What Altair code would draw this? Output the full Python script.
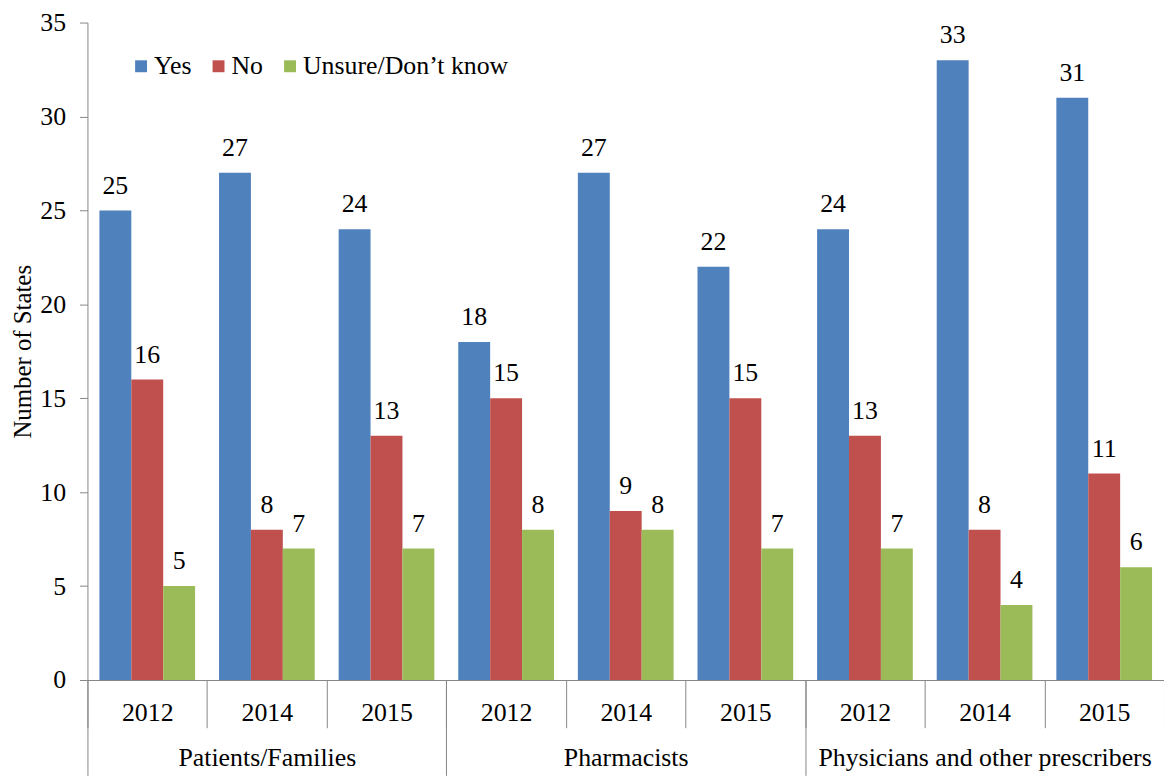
import altair as alt
import pandas as pd

categories = ["Patients/Families", "Pharmacists", "Physicians and other prescribers"]
years = ["2012", "2014", "2015"]
series = ["Yes", "No", "Unsure/Don\u2019t know"]
yes_vals = [25, 27, 24, 18, 27, 22, 24, 33, 31]
no_vals = [16, 8, 13, 15, 9, 15, 13, 8, 11]
unsure_vals = [5, 7, 7, 8, 8, 7, 7, 4, 6]
colors = ["#4F81BD", "#C0504D", "#9BBB59"]
y_ticks = [0, 5, 10, 15, 20, 25, 30, 35]

rows = []
slots = []
for ci, c in enumerate(categories):
    for yi, yr in enumerate(years):
        i = ci * 3 + yi
        slot = f"{c}|{yr}"
        slots.append(slot)
        for s, vals in zip(series, [yes_vals, no_vals, unsure_vals]):
            rows.append({"slot": slot, "category": c, "year": yr,
                         "series": s, "value": vals[i]})
df = pd.DataFrame(rows)
cat_df = pd.DataFrame({"category": categories})

FONT = "Liberation Serif"
GRAY = "#868686"
FS = 26

x_enc = alt.X(
    "slot:N", sort=slots,
    scale=alt.Scale(paddingInner=0, paddingOuter=0),
    axis=alt.Axis(title=None, orient="bottom",
                  labelExpr="split(datum.value, '|')[1]",
                  tickBand="extent", tickSize=48, tickColor=GRAY,
                  domainColor=GRAY, labelPadding=-28, labelFontSize=FS,
                  labelFont=FONT, labelColor="black", labelAngle=0,
                  labelLimit=0),
)
xoff = alt.XOffset("series:N", sort=series,
                   scale=alt.Scale(paddingInner=0, paddingOuter=0.375))
y_enc = alt.Y(
    "value:Q",
    scale=alt.Scale(domain=[0, 35], nice=False),
    axis=alt.Axis(title="Number of States", values=y_ticks, grid=False,
                  tickSize=8, tickColor=GRAY, domainColor=GRAY,
                  labelFontSize=FS, labelFont=FONT, labelColor="black",
                  labelPadding=14, titleFont=FONT, titleFontSize=25,
                  titleFontWeight="normal", titleColor="black",
                  titlePadding=4),
)
color_enc = alt.Color(
    "series:N", sort=series,
    scale=alt.Scale(domain=series, range=colors),
    legend=alt.Legend(title=None, orient="none", direction="horizontal",
                      legendX=41, legendY=31, symbolType="square",
                      symbolSize=144, symbolStrokeWidth=0,
                      labelFontSize=FS, labelFont=FONT, labelColor="black",
                      columnPadding=14, labelOffset=0, labelLimit=0),
)

bars = alt.Chart(df).mark_bar().encode(x=x_enc, xOffset=xoff, y=y_enc,
                                       color=color_enc)
labels = alt.Chart(df).mark_text(dy=-17, baseline="alphabetic", fontSize=FS,
                                 font=FONT, color="black").encode(
    x=x_enc, xOffset=xoff, y=y_enc, text="value:Q")

cat_layer = alt.Chart(cat_df).mark_point(opacity=0).encode(
    x=alt.X("category:N", sort=categories,
            scale=alt.Scale(paddingInner=0, paddingOuter=0),
            axis=alt.Axis(title=None, orient="bottom", domain=False,
                          tickBand="extent", tickSize=96, tickColor=GRAY,
                          labelPadding=-31, labelFontSize=FS, labelFont=FONT,
                          labelColor="black", labelAngle=0, labelLimit=0)),
    y=alt.datum(0),
)

chart = alt.layer(alt.layer(bars, labels), cat_layer).resolve_scale(
    x="independent"
).properties(
    width=1084, height=662,
    autosize=alt.AutoSizeParams(type="none"),
    padding={"left": 80, "top": 12, "right": 0, "bottom": 96},
).configure_view(stroke=None)

chart.save("out.html", embed_options={"renderer": "svg", "actions": False})
